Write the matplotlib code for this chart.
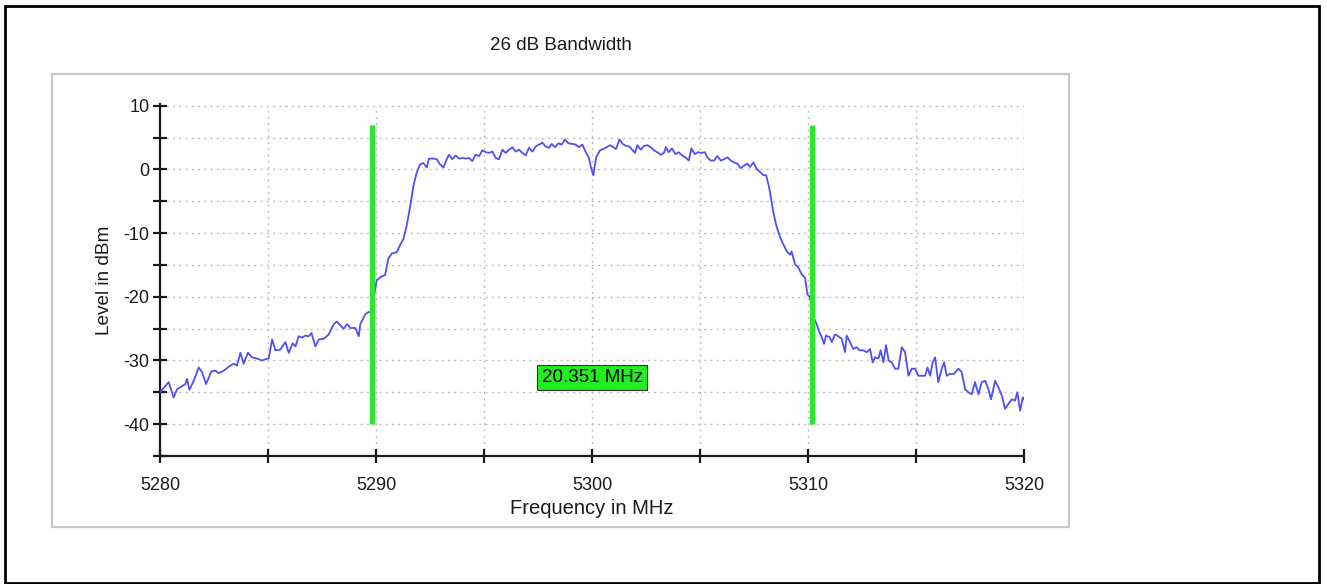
import matplotlib.pyplot as plt
from matplotlib.patches import Rectangle
import matplotlib as mpl

mpl.rcParams["font.family"] = ["Liberation Sans", "DejaVu Sans"]
mpl.rcParams["axes.unicode_minus"] = False

C_TRACE = "#5050F0"
C_MARK = "#2EE62E"
C_GRID = "#BDBDBD"
C_TEXT = "#1A1A1A"

# lower skirt, left of the first marker
freq_left = [5280.00, 5280.17, 5280.40, 5280.63, 5280.79, 5280.99, 5281.17, 5281.25,
             5281.36, 5281.56, 5281.79, 5281.94, 5282.13, 5282.38, 5282.56, 5282.72,
             5282.95, 5283.18, 5283.41, 5283.56, 5283.72, 5283.87, 5284.07, 5284.26,
             5284.49, 5284.72, 5284.88, 5285.03, 5285.19, 5285.34, 5285.57, 5285.80,
             5285.96, 5286.14, 5286.27, 5286.42, 5286.57, 5286.73, 5286.88, 5287.01,
             5287.19, 5287.35, 5287.58, 5287.81, 5288.04, 5288.19, 5288.35, 5288.50,
             5288.66, 5288.81, 5289.04, 5289.20, 5289.27, 5289.51, 5289.66, 5289.78]
level_left = [-35.0, -34.3, -33.4, -35.8, -34.5, -34.1, -33.7, -32.9,
              -34.6, -33.2, -31.1, -31.8, -33.7, -31.7, -31.6, -32.0,
              -31.6, -31.0, -30.5, -30.8, -28.8, -30.5, -28.8, -29.5,
              -29.7, -30.0, -29.8, -29.7, -26.7, -28.4, -28.3, -27.1,
              -28.8, -27.3, -27.8, -26.2, -26.4, -26.1, -26.2, -25.7,
              -27.8, -26.7, -26.6, -25.9, -24.3, -23.9, -24.5, -25.0,
              -24.3, -24.9, -24.9, -26.2, -24.3, -22.7, -22.4, -22.4]

# channel, between the markers
freq_mid = [5290.03, 5290.26, 5290.42, 5290.57, 5290.73, 5290.96, 5291.11, 5291.27,
            5291.42, 5291.57, 5291.73, 5291.88, 5292.04, 5292.19, 5292.35, 5292.45,
            5292.65, 5292.81, 5292.96, 5293.12, 5293.27, 5293.38, 5293.53, 5293.69,
            5293.84, 5294.00, 5294.15, 5294.31, 5294.46, 5294.61, 5294.77, 5294.92,
            5295.08, 5295.23, 5295.39, 5295.54, 5295.69, 5295.85, 5296.00, 5296.16,
            5296.31, 5296.47, 5296.62, 5296.77, 5296.93, 5297.08, 5297.24, 5297.39,
            5297.55, 5297.70, 5297.85, 5298.01, 5298.13, 5298.29, 5298.44, 5298.59,
            5298.75, 5298.90, 5299.09, 5299.24, 5299.39, 5299.55, 5299.70, 5299.86,
            5299.95, 5300.06, 5300.19, 5300.37, 5300.52, 5300.68, 5300.83, 5300.99,
            5301.11, 5301.27, 5301.42, 5301.57, 5301.73, 5301.88, 5301.99, 5302.10,
            5302.25, 5302.41, 5302.56, 5302.71, 5302.87, 5303.02, 5303.18, 5303.33,
            5303.42, 5303.55, 5303.70, 5303.86, 5304.01, 5304.17, 5304.32, 5304.48,
            5304.60, 5304.75, 5304.91, 5305.06, 5305.22, 5305.34, 5305.49, 5305.65,
            5305.80, 5305.96, 5306.11, 5306.27, 5306.42, 5306.57, 5306.73, 5306.88,
            5307.04, 5307.19, 5307.31, 5307.47, 5307.62, 5307.78, 5307.93, 5308.06,
            5308.21, 5308.36, 5308.52, 5308.67, 5308.83, 5309.01, 5309.17, 5309.24,
            5309.40, 5309.55, 5309.71, 5309.86, 5309.97, 5310.09]
level_mid = [-17.4, -16.8, -16.6, -14.0, -13.2, -13.0, -11.9, -10.9,
             -8.8, -6.0, -2.6, -0.5, 0.8, 1.0, 0.3, 1.7,
             1.7, 1.6, 0.8, 0.3, 1.6, 2.3, 1.6, 2.2,
             1.7, 1.8, 1.7, 1.8, 1.3, 2.3, 2.1, 3.0,
             2.7, 2.6, 2.8, 1.8, 1.6, 3.1, 2.6, 3.1,
             3.5, 2.8, 3.1, 2.6, 2.2, 3.4, 2.8, 3.6,
             3.9, 4.2, 3.6, 3.4, 4.0, 3.5, 4.1, 3.9,
             4.7, 4.1, 4.0, 3.9, 3.5, 3.9, 2.8, 1.8,
             0.3, -0.9, 1.9, 3.0, 3.2, 3.5, 3.8, 3.5,
             3.2, 4.7, 4.0, 3.7, 3.6, 3.0, 2.6, 3.8,
             3.1, 3.7, 3.8, 3.5, 3.0, 2.7, 2.3, 2.6,
             3.5, 2.7, 3.3, 2.4, 2.7, 2.2, 1.9, 1.4,
             3.3, 2.4, 2.7, 2.6, 2.7, 1.9, 1.4, 1.4,
             2.1, 1.4, 1.6, 1.9, 1.4, 1.1, 0.9, 0.2,
             0.6, 0.9, 0.4, 1.1, 0.1, -0.4, -0.9, -0.9,
             -3.0, -6.1, -8.7, -10.3, -11.6, -12.8, -13.4, -12.9,
             -14.9, -15.4, -16.5, -17.0, -19.6, -20.1]

# upper skirt, right of the second marker
freq_right = [5310.28, 5310.40, 5310.52, 5310.63, 5310.74, 5310.83, 5310.99, 5311.10,
              5311.25, 5311.40, 5311.56, 5311.71, 5311.79, 5311.94, 5312.10, 5312.25,
              5312.38, 5312.56, 5312.72, 5312.87, 5312.99, 5313.10, 5313.26, 5313.36,
              5313.49, 5313.61, 5313.73, 5313.87, 5314.03, 5314.18, 5314.34, 5314.49,
              5314.65, 5314.80, 5314.95, 5315.11, 5315.26, 5315.42, 5315.53, 5315.65,
              5315.77, 5315.88, 5316.03, 5316.19, 5316.30, 5316.42, 5316.57, 5316.76,
              5316.96, 5317.11, 5317.27, 5317.42, 5317.58, 5317.73, 5317.89, 5318.04,
              5318.20, 5318.35, 5318.47, 5318.66, 5318.81, 5318.97, 5319.12, 5319.28,
              5319.43, 5319.58, 5319.69, 5319.82, 5319.94, 5320.00]
level_right = [-23.4, -24.3, -25.5, -26.3, -27.4, -26.1, -26.3, -27.1,
               -25.9, -26.2, -26.6, -28.7, -26.1, -27.1, -28.2, -27.9,
               -28.4, -28.4, -28.7, -28.2, -30.3, -29.5, -29.7, -28.4,
               -30.3, -27.6, -30.0, -30.3, -31.3, -31.3, -27.9, -28.7,
               -32.4, -31.3, -31.3, -32.4, -32.4, -32.4, -31.1, -32.4,
               -30.3, -29.5, -33.4, -31.3, -30.3, -32.4, -32.1, -32.1,
               -31.3, -31.8, -34.5, -35.0, -35.3, -33.4, -35.3, -33.4,
               -33.2, -34.5, -36.1, -33.2, -34.2, -35.5, -37.6, -36.8,
               -36.1, -36.3, -35.0, -37.9, -35.8, -36.1]

marker_freqs = [5289.82, 5310.17]
marker_span = (-40, 7)
bw_label = "20.351 MHz"
bw_label_pos = (5300.0, -32.7)

x_ticks = list(range(5280, 5321, 5))
y_ticks = list(range(-45, 11, 5))


def draw():
    fig = plt.figure(figsize=(13.27, 5.84), dpi=100)
    fig.patch.set_facecolor("white")

    # outer black frame + grey chart panel (behind the axes)
    fig.patches.append(Rectangle((0.004, 0.002), 0.990, 0.988, transform=fig.transFigure,
                                 fc="none", ec="black", lw=2.0, zorder=-1))
    fig.patches.append(Rectangle((0.0392, 0.0976), 0.7664, 0.7757, transform=fig.transFigure,
                                 fc="none", ec="#C8C8C8", lw=1.6, zorder=-1))

    ax = fig.add_axes([0.1206, 0.2192, 0.6511, 0.6019])
    ax.set_facecolor("none")
    ax.set_xlim(5280, 5320)
    ax.set_ylim(-45, 10.2)

    for s in ("top", "right"):
        ax.spines[s].set_visible(False)
    for s in ("left", "bottom"):
        ax.spines[s].set_linewidth(1.6)
        ax.spines[s].set_color(C_TEXT)

    ax.set_xticks(x_ticks)
    ax.set_xticklabels([str(t) if t % 10 == 0 else "" for t in x_ticks])
    ax.set_yticks(y_ticks)
    ax.set_yticklabels([str(t) if t % 10 == 0 and t > -45 else "" for t in y_ticks])
    ax.tick_params(direction="inout", length=10, width=1.6, colors=C_TEXT,
                   labelsize=13)
    ax.tick_params(axis="y", pad=2.5)
    ax.tick_params(axis="x", pad=10)

    # dotted grid
    for yv in range(-40, 11, 5):
        ax.plot([5280, 5320], [yv, yv], ls=(0, (1.5, 3)), lw=1.0, color=C_GRID, zorder=1)
    for xv in range(5285, 5321, 5):
        ax.plot([xv, xv], [-45, 10], ls=(0, (1.5, 3)), lw=1.0, color=C_GRID, zorder=1)

    freq = freq_left + freq_mid + freq_right
    level = level_left + level_mid + level_right
    ax.plot(freq, level, color=C_TRACE, lw=1.3, zorder=3)

    for mf in marker_freqs:
        ax.plot([mf, mf], marker_span, color=C_MARK, lw=3.8, zorder=4,
                solid_capstyle="butt")

    ax.text(bw_label_pos[0], bw_label_pos[1], bw_label, ha="center", va="center",
            fontsize=13.5, color="black", zorder=5,
            bbox=dict(boxstyle="square,pad=0.22", fc="#22EE22", ec="#333333", lw=0.8))

    ax.set_xlabel("Frequency in MHz", fontsize=14.5, color=C_TEXT, labelpad=4)
    ax.set_ylabel("Level in dBm", fontsize=13.7, color=C_TEXT, labelpad=8)

    fig.text(0.423, 0.922, "26 dB Bandwidth", ha="center", va="center",
             fontsize=13.5, color=C_TEXT)

    fig.savefig("out.png", facecolor="white")
    plt.close(fig)


if __name__ == "__main__":
    draw()
